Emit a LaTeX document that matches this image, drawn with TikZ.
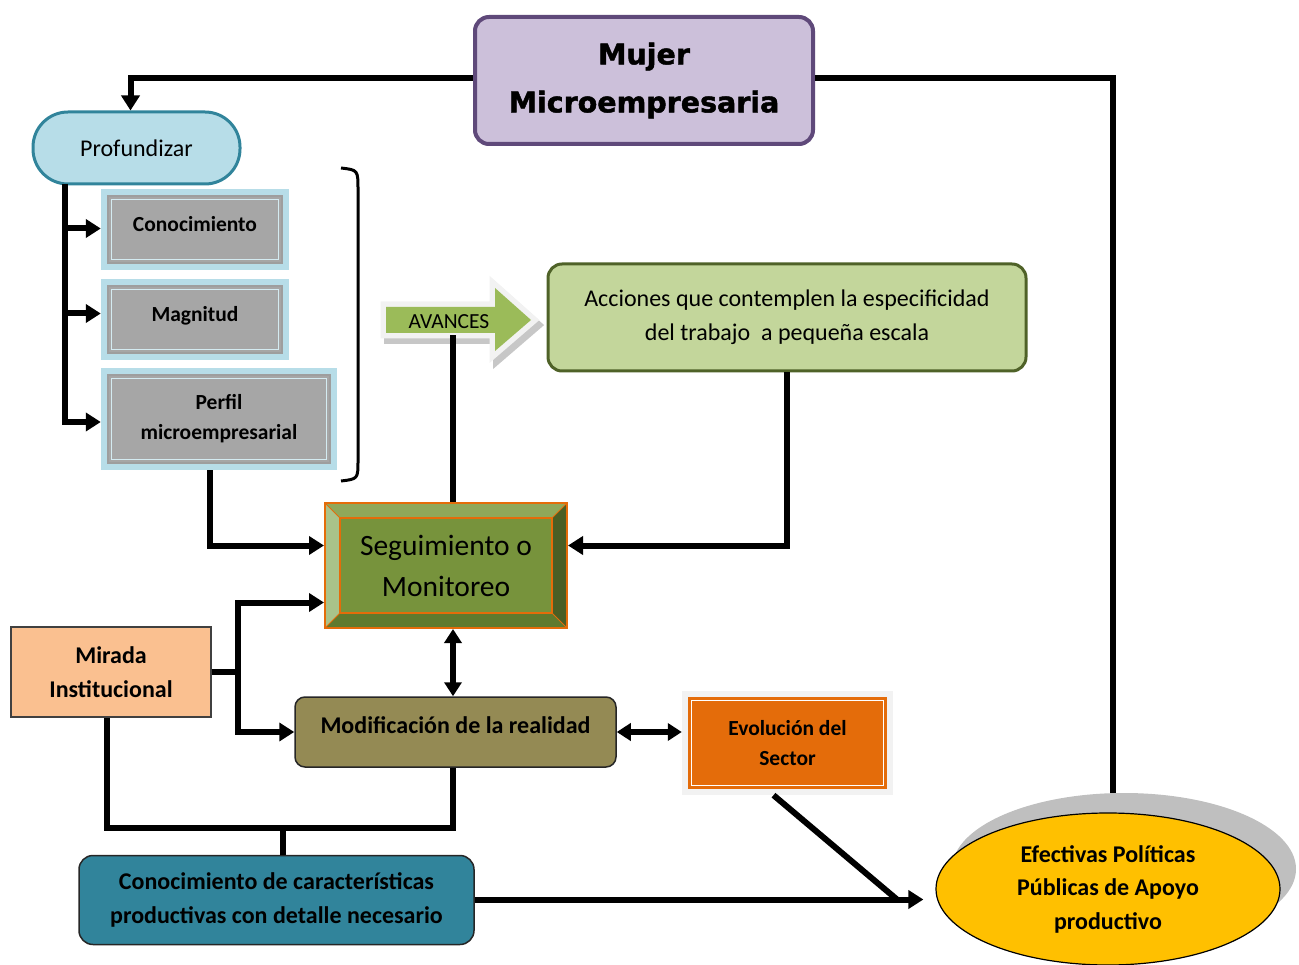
\documentclass[tikz,border=0pt]{standalone}
\usepackage{fontspec}
\setmainfont{Carlito}
\newfontfamily\heavyfont[FakeBold=1.6]{DejaVu Sans}
\usetikzlibrary{arrows.meta,shapes.geometric,calc}

\definecolor{lilac}{HTML}{CCC0DA}
\definecolor{lilacB}{HTML}{5F497A}
\definecolor{skyfill}{HTML}{B7DDE8}
\definecolor{teal}{HTML}{31849B}
\definecolor{greyfill}{HTML}{A6A6A6}
\definecolor{leaf}{HTML}{9BBB59}
\definecolor{paleleaf}{HTML}{C3D69B}
\definecolor{oliveB}{HTML}{4F6228}
\definecolor{moss}{HTML}{77933C}
\definecolor{mossTop}{HTML}{8FA85A}
\definecolor{mossLeft}{HTML}{A9C38A}
\definecolor{mossRight}{HTML}{4A5E24}
\definecolor{mossBottom}{HTML}{5F7A2E}
\definecolor{pumpkin}{HTML}{E46C0A}
\definecolor{peach}{HTML}{FAC090}
\definecolor{khaki}{HTML}{948A54}
\definecolor{gold}{HTML}{FFC000}

\tikzset{
  conn/.style={line width=6pt, draw=black},
  arr/.style={conn, -{Triangle[length=15pt,width=18pt]}},
  dbl/.style={conn, {Triangle[length=14pt,width=17pt]}-{Triangle[length=14pt,width=17pt]}},
  txt/.style={font=\fontsize{24}{34}\selectfont, align=center, text=black},
  btxt/.style={font=\fontsize{24}{33.5}\selectfont\bfseries, align=center, text=black},
  panel/.style={fill=skyfill, draw=none, inner sep=0pt,
    font=\fontsize{21.5}{30}\selectfont\bfseries, align=center,
    path picture={
      \fill[greyfill, draw=black!38, line width=1.5pt]
        ($(path picture bounding box.north west)+(7pt,-7pt)$) rectangle
        ($(path picture bounding box.south east)+(-7pt,7pt)$);
      \draw[skyfill!60!white, line width=1.2pt]
        ($(path picture bounding box.north west)+(10.5pt,-10.5pt)$) rectangle
        ($(path picture bounding box.south east)+(-10.5pt,10.5pt)$);
    }},
  arrowshape/.pic={
    \path[pic actions] (386,307) -- (495,307) -- (495,288) -- (531,320)
      -- (495,351) -- (495,333) -- (386,333) -- cycle;
  },
}

\begin{document}
\begin{tikzpicture}[x=1pt,y=-1pt]
\useasboundingbox (0,0) rectangle (1299,965);

% ---- title box
\node[fill=lilac, draw=lilacB, line width=4pt, rounded corners=14pt,
      minimum width=338, minimum height=127, align=center,
      font=\heavyfont\bfseries\fontsize{28.5}{48}\selectfont]
  (mujer) at (644,80.5) {Mujer\\Microempresaria};

% ---- left column
\node[txt, fill=skyfill, draw=teal, line width=3pt, rounded corners=35pt,
      minimum width=207, minimum height=72] (prof) at (136.5,148) {Profundizar};
\node[panel, text depth=11pt, minimum width=188, minimum height=81] (conoc) at (195,229.5) {Conocimiento};
\node[panel, text depth=11pt, minimum width=188, minimum height=81] (magn) at (195,319.5) {Magnitud};
\node[panel, minimum width=236, minimum height=102] (perfil) at (219,419) {Perfil\\microempresarial};

% closing bracket
\draw[line width=3pt, black] (341,168) .. controls (358,170) .. (358,190)
  -- (358,460) .. controls (358,479) .. (341,481);

% ---- AVANCES block arrow (shadow, light rim, green body)
\pic[fill=black!22, draw=black!22, line width=12pt, line join=miter, shift={(4pt,-5pt)}] {arrowshape};
\pic[fill=leaf, draw=black!5, line width=11pt, line join=miter] {arrowshape};
\pic[fill=leaf] {arrowshape};
\node[txt, font=\fontsize{21.5}{23}\selectfont, inner sep=0pt,
      minimum width=107, minimum height=26] (avances) at (449,322) {AVANCES};

\node[txt, fill=paleleaf, draw=oliveB, line width=3pt, rounded corners=14pt,
      minimum width=478, minimum height=107] (acc) at (787,317.5)
  {Acciones que contemplen la especificidad\\del trabajo\ \ a pequeña escala};

% ---- bevelled monitoring box
\fill[mossTop] (325,503) -- (567,503) -- (552,518) -- (340,518) -- cycle;
\fill[mossLeft] (325,503) -- (340,518) -- (340,613) -- (325,628) -- cycle;
\fill[mossRight] (567,503) -- (552,518) -- (552,613) -- (567,628) -- cycle;
\fill[mossBottom] (325,628) -- (340,613) -- (552,613) -- (567,628) -- cycle;
\draw[pumpkin, line width=1.2pt, fill=moss] (340,518) rectangle (552,613);
\draw[pumpkin, line width=1pt] (325,503) -- (340,518) (567,503) -- (552,518)
  (325,628) -- (340,613) (567,628) -- (552,613);
\node[draw=pumpkin, line width=2pt, minimum width=242, minimum height=125,
      align=center, font=\fontsize{29.5}{41}\selectfont]
  (seg) at (446,565.5) {Seguimiento o\\Monitoreo};

% ---- lower boxes
\node[btxt, fill=peach, draw=black!75, line width=1.5pt,
      minimum width=200, minimum height=90] (mirada) at (111,672) {Mirada\\Institucional};
\node[btxt, text depth=14pt, fill=khaki, draw=black!85, line width=1.5pt, rounded corners=10pt,
      minimum width=321, minimum height=70] (modif) at (455.5,732)
  {Modificación de la realidad};
\node[fill=black!5, minimum width=211, minimum height=104, inner sep=0pt,
      font=\fontsize{21.5}{30}\selectfont\bfseries, align=center,
      path picture={
        \fill[pumpkin] ($(path picture bounding box.north west)+(6pt,-6pt)$) rectangle
          ($(path picture bounding box.south east)+(-6pt,6pt)$);
        \draw[white, line width=1.3pt]
          ($(path picture bounding box.north west)+(9.5pt,-9.5pt)$) rectangle
          ($(path picture bounding box.south east)+(-9.5pt,9.5pt)$);
      }] (evol) at (787.5,743) {Evolución del\\Sector};
\node[btxt, fill=teal, draw=black!85, line width=1.5pt, rounded corners=14pt,
      minimum width=395, minimum height=89] (know) at (276.5,900)
  {Conocimiento de características\\productivas con detalle necesario};

% ---- policy ellipse with shadow
\node[ellipse, fill=black!25, minimum width=344, minimum height=152] (polshadow) at (1124,869) {};
\node[ellipse, btxt, fill=gold, draw=black, line width=1.2pt,
      minimum width=344, minimum height=152, inner sep=0pt] (pol) at (1108,889)
  {Efectivas Políticas\\Públicas de Apoyo\\productivo};

% ---- junction points
\coordinate (trunk) at (65,184);
\coordinate (vx) at (453,0);
\coordinate (fork) at (238,672);
\coordinate (bus) at (283,828);
\coordinate (join) at (897,899.5);

% ---- connectors
\draw[arr] (mujer.west |- 0,78) -| ([xshift=-6pt]prof.north);
\draw[conn] (mujer.east |- 0,78) -| (polshadow.north -| 1113,0);
\draw[arr] (trunk) |- ([yshift=-3pt]perfil.west);
\draw[arr] ([yshift=1pt]conoc.west -| trunk) -- ([yshift=1pt]conoc.west);
\draw[arr] ([yshift=6pt]magn.west -| trunk) -- ([yshift=6pt]magn.west);
\draw[arr] ([xshift=-9pt]perfil.south) |- ([yshift=20pt]seg.west);
\draw[conn] (avances.south -| vx) -- (seg.north -| vx);
\draw[arr] (acc.south) |- ([yshift=20pt]seg.east);
\draw[conn] (mirada.east) -- (fork);
\draw[arr] (fork) |- ([yshift=-37pt]seg.west);
\draw[arr] (fork) |- (modif.west);
\draw[dbl] (seg.south -| vx) -- (modif.north -| vx);
\draw[dbl] (modif.east) -- (modif.east -| evol.west);
\draw[conn] ([xshift=-4pt]mirada.south) |- (bus) -| (modif.south -| vx);
\draw[conn] (bus) -- (know.north -| bus);
\draw[arr, shorten >=12pt] (know.east |- join) -- (join -| pol.west);
\draw[conn] ([xshift=-14pt]evol.south) -- (join);
\end{tikzpicture}
\end{document}
